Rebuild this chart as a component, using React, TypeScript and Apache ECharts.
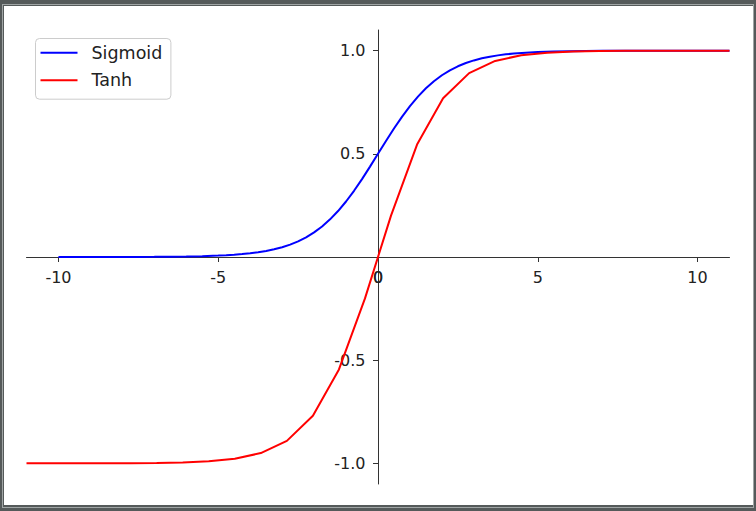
import React, { useEffect, useRef } from "react";
import * as echarts from "echarts";

const sigmoidX = [
  -10, -9.5, -9, -8.5, -8, -7.5, -7, -6.5, -6, -5.5, -5, -4.75, -4.5, -4.25, -4, -3.75, -3.5, -3.25, -3,
  -2.75, -2.5, -2.25, -2, -1.75, -1.5, -1.25, -1, -0.75, -0.5, -0.25, 0, 0.25, 0.5, 0.75, 1, 1.25, 1.5,
  1.75, 2, 2.25, 2.5, 2.75, 3, 3.25, 3.5, 3.75, 4, 4.25, 4.5, 4.75, 5, 5.5, 6, 6.5, 7, 7.5, 8, 8.5, 9,
  9.5, 10, 10.5, 11,
];
const sigmoidY = [
  0.00005, 0.00007, 0.00012, 0.0002, 0.00034, 0.00055, 0.00091, 0.0015, 0.00247, 0.00407, 0.00669,
  0.00858, 0.01099, 0.01406, 0.01799, 0.02298, 0.02931, 0.03733, 0.04743, 0.06009, 0.07586, 0.09535,
  0.1192, 0.14805, 0.18243, 0.2227, 0.26894, 0.32082, 0.37754, 0.43782, 0.5, 0.56218, 0.62246, 0.67918,
  0.73106, 0.7773, 0.81757, 0.85195, 0.8808, 0.90465, 0.92414, 0.93991, 0.95257, 0.96267, 0.97069,
  0.97702, 0.98201, 0.98594, 0.98901, 0.99142, 0.99331, 0.99593, 0.99753, 0.9985, 0.99909, 0.99945,
  0.99967, 0.9998, 0.99988, 0.99993, 0.99995, 0.99997, 0.99998,
];
const tanhX = [
  -11, -10.185, -9.37, -8.556, -7.741, -6.926, -6.111, -5.296, -4.481, -3.667, -2.852, -2.037, -1.222,
  -0.407, 0.407, 1.222, 2.037, 2.852, 3.667, 4.481, 5.296, 6.111, 6.926, 7.741, 8.556, 9.37, 10.185, 11,
];
const tanhY = [
  -1.0, -0.9999, -0.9998, -0.9996, -0.9991, -0.998, -0.9956, -0.99, -0.9776, -0.9502, -0.8909, -0.7692,
  -0.5448, -0.2007, 0.2007, 0.5448, 0.7692, 0.8909, 0.9502, 0.9776, 0.99, 0.9956, 0.998, 0.9991, 0.9996,
  0.9998, 0.9999, 1.0,
];
const xTicks = [-10, -5, 0, 5, 10];
const yTicks = [-1, -0.5, 0.5, 1];
const seriesNames = ["Sigmoid", "Tanh"];

const FONT = "'DejaVu Sans', sans-serif";

export default function App() {
  const ref = useRef<HTMLDivElement>(null);
  useEffect(() => {
    const chart = echarts.init(ref.current!, null, { renderer: "svg" });
    const axisColor = "#333333";
    const gridLeft = 26.5;
    const gridTop = 30;
    const gridW = 703;
    const gridH = 454;
    // place the spines at the data origin (x = 0, y = 0)
    const xZeroOffset = -(gridH * (0 - -1.1)) / 2.2;
    const yZeroOffset = -(gridW * (0 - -11)) / 22;
    const xLabelStyle = {
      margin: 12,
      fontFamily: FONT,
      fontSize: 16,
      color: "#222222",
      formatter: (v: number) => String(v),
    };
    chart.setOption({
      animation: false,
      grid: { left: gridLeft, top: gridTop, width: gridW, height: gridH, outerBoundsMode: "none", containLabel: false },
      legend: {
        data: seriesNames,
        orient: "vertical",
        left: 35.5,
        top: 38.5,
        icon: "rect",
        itemWidth: 37,
        itemHeight: 2,
        itemGap: 9.4,
        padding: [5.3, 8.6, 10, 5],
        backgroundColor: "rgba(255,255,255,0.8)",
        borderColor: "#cccccc",
        borderWidth: 1,
        borderRadius: 4,
        textStyle: {
          fontFamily: FONT,
          fontSize: 17.5,
          lineHeight: 17,
          color: "#222222",
          padding: [0, 0, 0, 9],
        },
      },
      xAxis: [
        {
          type: "value",
          min: -11,
          max: 11,
          position: "bottom",
          offset: xZeroOffset,
          axisLine: { onZero: false, lineStyle: { color: axisColor, width: 1 } },
          axisTick: { show: true, length: 5, customValues: xTicks, lineStyle: { color: axisColor } },
          axisLabel: { ...xLabelStyle, customValues: xTicks },
          splitLine: { show: false },
        },
        {
          // second bottom axis only carrying the "0" label at the origin
          type: "value",
          min: -11,
          max: 11,
          position: "bottom",
          offset: xZeroOffset,
          axisLine: { show: false, onZero: false },
          axisTick: { show: false },
          axisLabel: { ...xLabelStyle, customValues: [0] },
          splitLine: { show: false },
        },
      ],
      yAxis: {
        type: "value",
        min: -1.1,
        max: 1.1,
        position: "left",
        offset: yZeroOffset,
        axisLine: { onZero: false, lineStyle: { color: axisColor, width: 1 } },
        axisTick: { show: true, length: 5, customValues: yTicks, lineStyle: { color: axisColor } },
        axisLabel: {
          customValues: yTicks,
          margin: 12.5,
          fontFamily: FONT,
          fontSize: 16,
          color: "#222222",
          formatter: (v: number) => v.toFixed(1),
        },
        splitLine: { show: false },
      },
      series: [
        {
          name: seriesNames[0],
          type: "line",
          data: sigmoidX.map((x, i) => [x, sigmoidY[i]]),
          symbol: "none",
          color: "#0000ff",
          lineStyle: { color: "#0000ff", width: 2 },
        },
        {
          name: seriesNames[1],
          type: "line",
          data: tanhX.map((x, i) => [x, tanhY[i]]),
          symbol: "none",
          color: "#ff0000",
          lineStyle: { color: "#ff0000", width: 2 },
        },
      ],
    });
    return () => chart.dispose();
  }, []);
  return (
    <div style={{ position: "fixed", left: 0, top: 0, width: 756, height: 511, background: "#555a5a" }}>
      <div
        style={{
          position: "absolute",
          left: 2,
          top: 4,
          width: 752,
          height: 504,
          boxSizing: "border-box",
          border: "1px solid #a0a5a5",
          background: "#555a5a",
        }}
      />
      <div style={{ position: "absolute", left: 4, top: 6, width: 749, height: 499, background: "#ffffff" }} />
      <div ref={ref} style={{ position: "absolute", left: 0, top: 0, width: 756, height: 511 }} />
    </div>
  );
}
